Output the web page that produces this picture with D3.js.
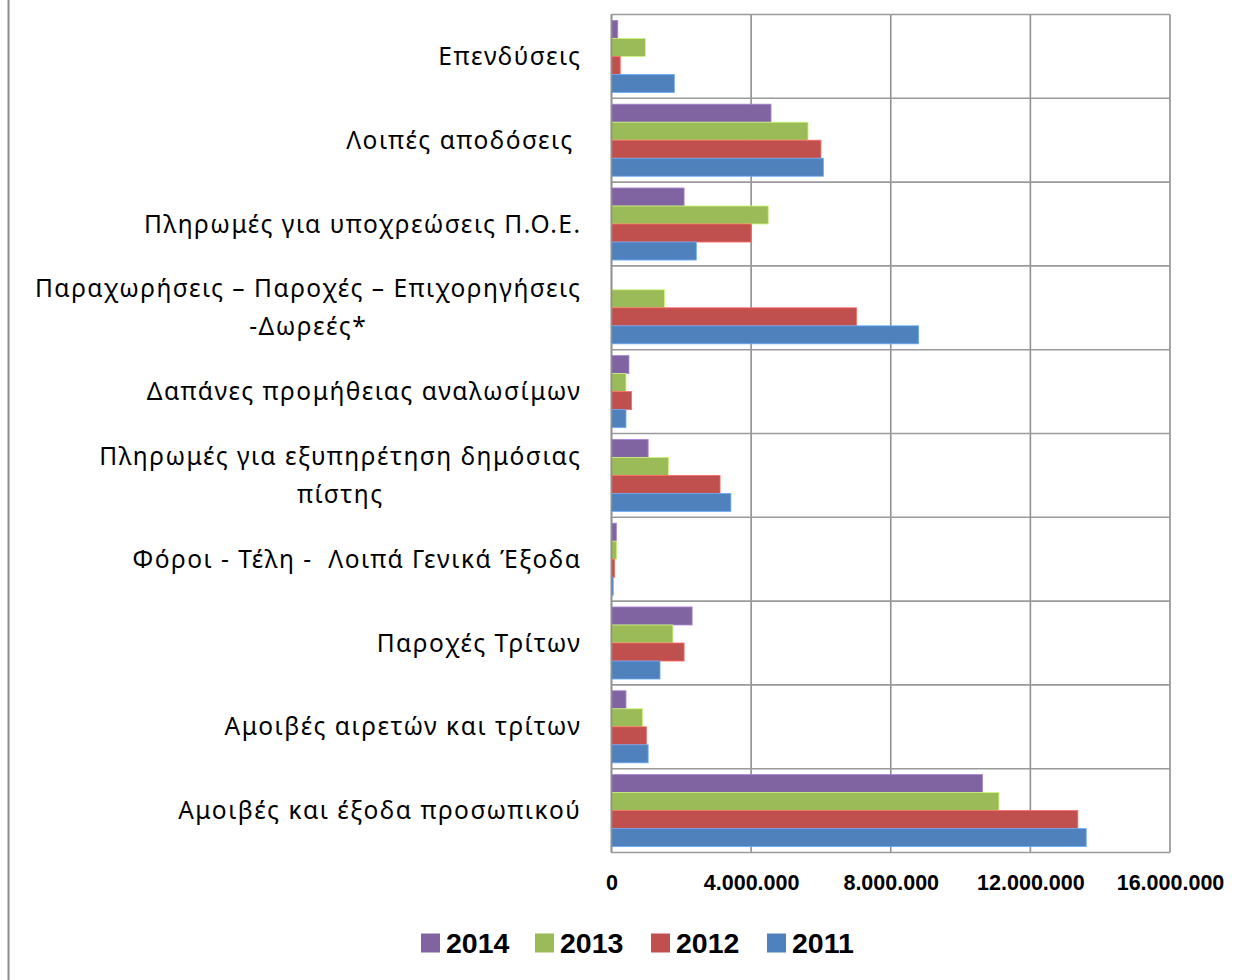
<!DOCTYPE html>
<html>
<head>
<meta charset="utf-8">
<script src="https://cdn.jsdelivr.net/npm/d3@7"></script>
<style>
  html, body { margin: 0; padding: 0; background: #fff; }
  svg { display: block; }
</style>
</head>
<body>
<svg id="chart" width="1248" height="980"></svg>
<script>
// ---- data ----
const categories = [
  ["Επενδύσεις"],
  ["Λοιπές αποδόσεις "],
  ["Πληρωμές για υποχρεώσεις Π.Ο.Ε."],
  ["Παραχωρήσεις – Παροχές – Επιχορηγήσεις", "-Δωρεές*"],
  ["Δαπάνες προμήθειας αναλωσίμων"],
  ["Πληρωμές για εξυπηρέτηση δημόσιας", "πίστης"],
  ["Φόροι - Τέλη -  Λοιπά Γενικά Έξοδα"],
  ["Παροχές Τρίτων"],
  ["Αμοιβές αιρετών και τρίτων"],
  ["Αμοιβές και έξοδα προσωπικού"]
];
const seriesNames = ["2014", "2013", "2012", "2011"];
const values2014 = [180000, 4570000, 2080000, 0, 500000, 1050000, 140000, 2310000, 415000, 10630000];
const values2013 = [970000, 5630000, 4490000, 1520000, 415000, 1630000, 150000, 1760000, 890000, 11100000];
const values2012 = [250000, 6000000, 4000000, 7020000, 577000, 3110000, 90000, 2080000, 1000000, 13360000];
const values2011 = [1800000, 6070000, 2430000, 8800000, 415000, 3420000, 50000, 1390000, 1050000, 13600000];
const seriesValues = [values2014, values2013, values2012, values2011];
const colors = ["#8064A2", "#9BBB59", "#C0504D", "#4F81BD"];
const tickValues = [0, 4000000, 8000000, 12000000, 16000000];
const tickLabels = ["0", "4.000.000", "8.000.000", "12.000.000", "16.000.000"];

(function () {
// ---- layout ----
const svg = d3.select("#chart");
const pLeft = 611.5, pRight = 1170, pTop = 14.5, pBottom = 852.5;

const x = d3.scaleLinear().domain([0, 16000000]).range([pLeft, pRight]);
const y = d3.scaleBand().domain(d3.range(categories.length)).range([pTop, pBottom])
  .paddingInner(0.14).paddingOuter(0.07);
const ySub = d3.scaleBand().domain(seriesNames).range([0, y.bandwidth()]).padding(0);
const step = (pBottom - pTop) / categories.length;

// left decorative frame line
svg.append("line").attr("x1", 8.5).attr("x2", 8.5).attr("y1", 0).attr("y2", 980)
  .attr("stroke", "#8c8c8c").attr("stroke-width", 2);

// gridlines (vertical)
const grid = svg.append("g");
grid.selectAll("line.v").data(tickValues).join("line").attr("class", "v")
  .attr("x1", d => x(d)).attr("x2", d => x(d))
  .attr("y1", pTop).attr("y2", pBottom)
  .attr("stroke", "#8f8f8f").attr("stroke-width", 1.6);
// category separators (horizontal)
grid.selectAll("line.h").data(d3.range(categories.length + 1)).join("line").attr("class", "h")
  .attr("x1", pLeft).attr("x2", pRight)
  .attr("y1", d => pTop + d * step).attr("y2", d => pTop + d * step)
  .attr("stroke", "#9a9a9a").attr("stroke-width", 1.6);

// bars
const groups = svg.append("g").selectAll("g").data(categories).join("g")
  .attr("transform", (d, i) => `translate(0,${y(i)})`);
groups.selectAll("rect").data((d, i) => seriesNames.map((s, k) => ({s, k, v: seriesValues[k][i]})))
  .join("rect")
  .attr("x", x(0))
  .attr("y", d => ySub(d.s))
  .attr("width", d => x(d.v) - x(0))
  .attr("height", ySub.bandwidth())
  .attr("fill", d => colors[d.k])
  .attr("stroke", d => d.v > 0 ? d3.color(colors[d.k]).brighter(0.8) : "none")
  .attr("stroke-width", 0.8);

// left axis line on top
svg.append("line").attr("x1", pLeft).attr("x2", pLeft).attr("y1", pTop).attr("y2", pBottom)
  .attr("stroke", "#8f8f8f").attr("stroke-width", 1.6);

// category labels
const labelX = 581.5;
const fontFamily = "'Noto Sans', 'DejaVu Sans', sans-serif";
const labels = svg.append("g").attr("font-family", fontFamily).attr("font-size", 24.5)
  .attr("letter-spacing", "1.5px").attr("fill", "#000");
categories.forEach((lines, i) => {
  const cy = pTop + (i + 0.5) * step;
  const lh = 38;
  const g = labels.append("g");
  const texts = lines.map((t, j) => g.append("text")
    .attr("y", cy + (j - (lines.length - 1) / 2) * lh)
    .attr("dy", "0.35em")
    .style("white-space", "pre")
    .text(t));
  const widths = texts.map(t => t.node().getComputedTextLength());
  const maxW = d3.max(widths);
  const center = labelX - maxW / 2;
  texts.forEach(t => t.attr("x", center).attr("text-anchor", "middle"));
});

// x axis tick labels
const axis = d3.axisBottom(x).tickValues(tickValues).tickFormat((d, i) => tickLabels[i]).tickSize(0).tickPadding(0);
const ax = svg.append("g").attr("transform", `translate(0,${pBottom + 22})`).call(axis);
ax.select(".domain").remove();
ax.selectAll("text").attr("font-family", "'Liberation Sans', Arial, sans-serif")
  .attr("font-size", 21.5).attr("font-weight", "bold").attr("fill", "#000");

// legend
const legendX = [421, 535, 651, 767];
const legend = svg.append("g").selectAll("g").data(seriesNames).join("g")
  .attr("transform", (d, i) => `translate(${legendX[i]},943)`);
legend.append("rect").attr("x", 0).attr("y", -9.5).attr("width", 19).attr("height", 19)
  .attr("fill", (d, i) => colors[i]);
legend.append("text").attr("x", 25).attr("y", 0).attr("dy", "0.36em")
  .attr("font-family", "'Liberation Sans', Arial, sans-serif").attr("font-size", 28.5)
  .attr("font-weight", "bold").attr("fill", "#000").text(d => d);
})();
</script>
</body>
</html>
